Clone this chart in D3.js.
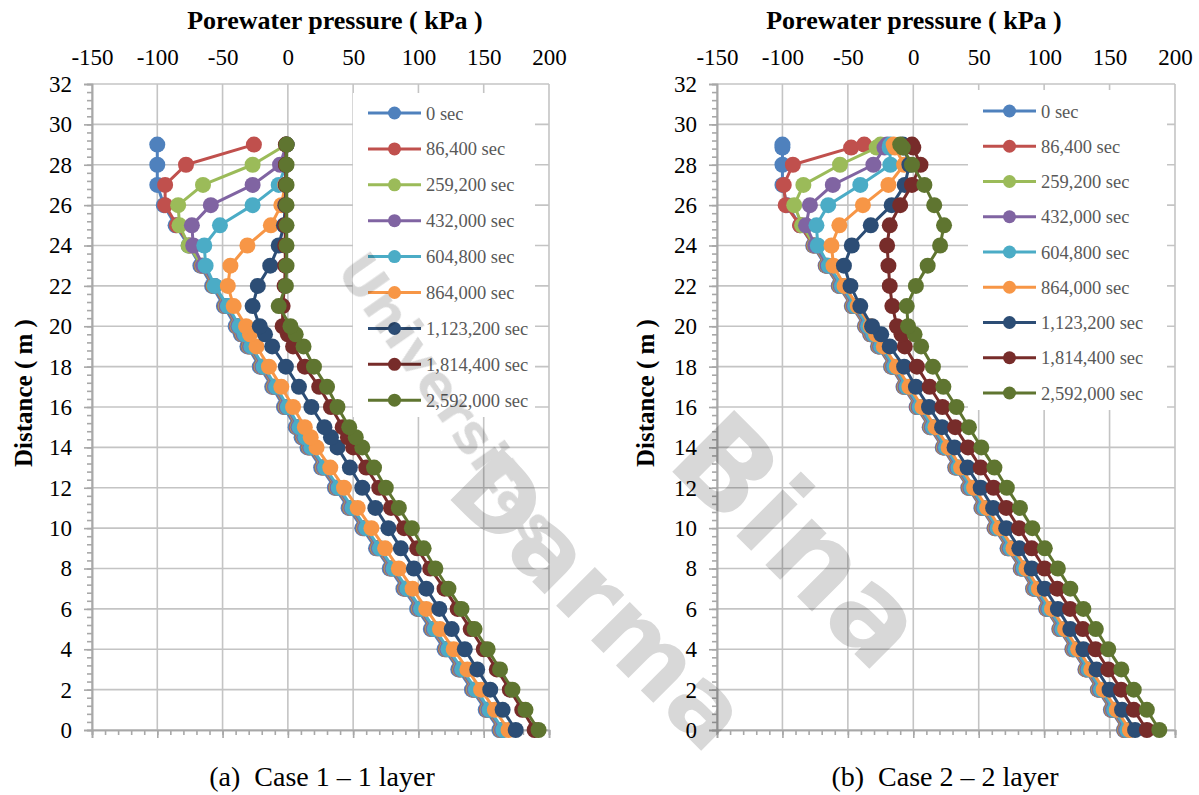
<!DOCTYPE html>
<html>
<head>
<meta charset="utf-8">
<script src="https://cdn.jsdelivr.net/npm/d3@7"></script>
<style>
  body { margin: 0; background: #fff; }
  svg text { font-family: "Liberation Serif", "Times New Roman", "DejaVu Serif", serif; }
</style>
</head>
<body>
<svg id="chart" width="1199" height="795"></svg>
<script>
// ---- data ----
var seriesNames = ["0 sec", "86,400 sec", "259,200 sec", "432,000 sec", "604,800 sec",
                   "864,000 sec", "1,123,200 sec", "1,814,400 sec", "2,592,000 sec"];
var seriesColors = ["#4F81BD", "#C0504D", "#9BBB59", "#8064A2", "#4BACC6",
                    "#F79646", "#2C4D75", "#772C2A", "#5F7530"];
var xTicks = [-150, -100, -50, 0, 50, 100, 150, 200];
var yTicks = [0, 2, 4, 6, 8, 10, 12, 14, 16, 18, 20, 22, 24, 26, 28, 30, 32];
var captions = ["(a)  Case 1 \u2013 1 layer", "(b)  Case 2 \u2013 2 layer"];

// case 1 : distance (m) of each node
var depthA = [0, 1, 2, 3, 4, 5, 6, 7, 8, 9, 10, 11, 12, 13, 14, 14.5, 15, 16, 17, 18, 19, 19.6,
              20, 21, 22, 23, 24, 25, 26, 27, 28, 29];
// case 1 : porewater pressure (kPa), one array per time
var case1_0s      = [162, 151.5, 141, 130.5, 120, 109.5, 99, 88.5, 78, 67.5, 57, 46.5, 36, 25.5, 15, 10.5, 6, -3, -12, -21.5, -31, -36, -40, -49, -58, -67, -76, -86, -95, -100, -100, -100];
var case1_86400   = [163, 152.5, 142, 131.5, 121, 110.5, 100, 89.5, 79, 68.5, 58, 47.5, 37, 26.5, 16, 11.5, 7, -2, -11, -20.5, -30, -35, -39, -48, -57, -66, -75, -85, -94, -94, -78, -26];
var case1_259200  = [163.5, 153, 142.5, 132, 121.5, 111, 100.5, 90, 79.5, 69, 58.5, 48, 37.5, 27, 16.5, 12, 7.5, -1.5, -10.5, -20, -29.5, -34.5, -38.5, -47.5, -56.5, -65.5, -76, -83, -84, -65, -27, -1];
var case1_432000  = [164, 153.5, 143, 132.5, 122, 111.5, 101, 90.5, 80, 69.5, 59, 48.5, 38, 27.5, 17, 12.5, 8, -1, -10, -19.5, -29, -34, -38, -47, -56, -65, -72.5, -73.5, -59, -27, -6, -1];
var case1_604800  = [165, 154.5, 144, 133.5, 123, 112.5, 102, 91.5, 81, 70.5, 60, 49.5, 39, 28.5, 18, 13.5, 9, 0, -9, -18.5, -28, -33, -37, -46, -56, -63, -64, -52, -27, -7, -1.5, -1];
var case1_864000  = [169, 158.5, 148, 137.5, 127, 116.5, 106, 95.5, 85, 74.5, 64, 53.5, 43, 32.5, 22, 17.5, 13, 4, -5, -14.5, -24, -29, -32, -41.5, -46, -44, -31, -13, -5, -2, -1.5, -1];
var case1_1123200 = [174.5, 164.5, 155, 145, 135.5, 125.5, 116, 106, 96.5, 86.5, 77, 67, 57, 47.5, 38, 33, 28, 18, 8.5, -1.5, -12, -17.5, -21.5, -27, -23, -13.5, -7, -3, -2, -1.5, -1.5, -1];
var case1_1814400 = [189, 179.5, 170, 160, 150, 140, 130, 120, 109, 99, 89, 79, 70, 60, 50, 46, 42, 33, 24, 13, 4, 0, -4, -4, -2.5, -2, -2, -2, -1.5, -1.5, -1.5, -1.5];
var case1_2592000 = [192, 182, 172, 162.5, 153, 143, 133, 123, 113, 104, 95, 85, 75, 66, 57, 52, 47, 38, 30, 20, 12, 6, 2, -7, -1.5, -1, -1, -1, -1, -1, -1, -1];

// case 2 : distance (m) of each node
var depthB = [0, 1, 2, 3, 4, 5, 6, 7, 8, 9, 10, 11, 12, 13, 14, 15, 16, 17, 18, 19, 19.6,
              20, 21, 22, 23, 24, 25, 26, 27, 28, 28.85, 29];
var case2_0s      = [161, 151, 141, 131.5, 121.5, 111.5, 101.5, 91.5, 82, 72, 62, 52, 42, 32, 22.5, 12.5, 2.5, -7.5, -17, -27, -33, -37, -47, -57, -67, -76.5, -86.5, -96.5, -100, -100, -100, -100];
var case2_86400   = [161.5, 151.5, 141.5, 132, 122, 112, 102, 92, 82.5, 72.5, 62.5, 52.5, 42.5, 32.5, 23, 13, 3, -7, -16.5, -26.5, -32.5, -36.5, -46.5, -56.5, -66.5, -76, -86.5, -97.5, -99, -92, -47.5, -37.5];
var case2_259200  = [162, 152, 142, 132.5, 122.5, 112.5, 102.5, 92.5, 83, 73, 63, 53, 43, 33, 23.5, 13.5, 3.5, -6.5, -16, -26, -32, -36, -46, -56, -66, -75.5, -85, -91, -84, -56, -28, -25];
var case2_432000  = [162.5, 152.5, 142.5, 133, 123, 113, 103, 93, 83.5, 73.5, 63.5, 53.5, 43.5, 33.5, 24, 14, 4, -6, -15.5, -25.5, -31.5, -35.5, -45.5, -55.5, -65.5, -75, -82, -79, -61.5, -30.5, -22, -20];
var case2_604800  = [163.5, 153.5, 143.5, 134, 124, 114, 104, 94, 84.5, 74.5, 64.5, 54.5, 44.5, 34.5, 25, 15, 5, -5, -14.5, -24.5, -30.5, -34.5, -44.5, -54.5, -64.5, -73, -74, -65, -40.5, -17.5, -18, -17.5];
var case2_864000  = [165.5, 155.5, 145.5, 136, 126, 116, 106, 96, 86.5, 76.5, 66.5, 56.5, 46.5, 36.5, 27, 17, 7, -3, -12.5, -22.5, -28.5, -32.5, -42.5, -52.5, -61, -62.5, -56.5, -38.5, -19, -7, -14, -15];
var case2_1123200 = [169.5, 159.5, 150, 140, 130, 120, 110.5, 100.5, 90.5, 81, 71, 61, 51.5, 41.5, 31.5, 22, 12, 2, -7, -18, -24.5, -31.5, -40.5, -48, -53, -47, -32.5, -16.5, -6.5, -3, -7, -8];
var case2_1814400 = [178.5, 168.5, 158.8, 149, 139.3, 129.6, 119.8, 110, 100.3, 90.5, 80.8, 71, 61.3, 51.5, 41.8, 32, 22.3, 12.5, 2.8, -6.5, -9, -12.5, -16, -18, -19, -20, -18, -10, -1, 5.5, 0, -1];
var case2_2592000 = [188, 178.5, 168.5, 159, 149, 139.5, 130, 120, 110.5, 100.5, 91, 81.5, 71.5, 62, 52, 42.5, 33, 23, 15, 6, 1, -4, -5, 2, 11, 20.5, 23.5, 16, 8.5, -1, -8, -10];

var serif = "'Liberation Serif', 'Times New Roman', 'DejaVu Serif', serif";

var panels = [
  { depth: depthA, caption: captions[0],
    series: [case1_0s, case1_86400, case1_259200, case1_432000, case1_604800,
             case1_864000, case1_1123200, case1_1814400, case1_2592000],
    left: 92, right: 549, top: 84, bottom: 730,
    titleX: 335, yTitleX: 24, captionX: 322,
    legend: { x: 353, y: 93, w: 182, h: 324, first: 113, step: 35.9 } },
  { depth: depthB, caption: captions[1],
    series: [case2_0s, case2_86400, case2_259200, case2_432000, case2_604800,
             case2_864000, case2_1123200, case2_1814400, case2_2592000],
    left: 717, right: 1175, top: 84, bottom: 730,
    titleX: 914, yTitleX: 646, captionX: 945,
    legend: { x: 968, y: 90, w: 199, h: 320, first: 111, step: 35.25 } }
];

var svg = d3.select("#chart");
svg.append("rect").attr("width", 1199).attr("height", 795).attr("fill", "#fff");

var gridColor = "#c4c4c4",
    axisColor = "#a8a8a8";

panels.forEach(function(p) {
  var x = d3.scaleLinear().domain([-150, 200]).range([p.left, p.right]);
  var y = d3.scaleLinear().domain([0, 32]).range([p.bottom, p.top]);
  var g = svg.append("g");

  // gridlines
  g.append("g").selectAll("line").data(xTicks).enter().append("line")
    .attr("x1", function(d) { return x(d); }).attr("x2", function(d) { return x(d); })
    .attr("y1", p.top).attr("y2", p.bottom)
    .attr("stroke", gridColor).attr("stroke-width", 1.6);
  g.append("g").selectAll("line").data(yTicks).enter().append("line")
    .attr("x1", p.left).attr("x2", p.right)
    .attr("y1", function(d) { return y(d); }).attr("y2", function(d) { return y(d); })
    .attr("stroke", gridColor).attr("stroke-width", 1.6);

  // minor + major ticks, left axis
  var yMinor = g.append("g").attr("transform", "translate(" + p.left + ",0)")
    .call(d3.axisLeft(y).tickValues(d3.range(0, 32.01, 0.4)).tickSize(5).tickFormat(""));
  var yMajor = g.append("g").attr("transform", "translate(" + p.left + ",0)")
    .call(d3.axisLeft(y).tickValues(yTicks).tickSize(8).tickPadding(12)
      .tickFormat(function(d) { return String(d); }));
  // minor + major ticks, bottom axis
  var xMinor = g.append("g").attr("transform", "translate(0," + p.bottom + ")")
    .call(d3.axisBottom(x).tickValues(d3.range(-150, 200.01, 10)).tickSize(5).tickFormat(""));
  var xMajor = g.append("g").attr("transform", "translate(0," + p.bottom + ")")
    .call(d3.axisBottom(x).tickValues(xTicks).tickSize(8).tickFormat(""));
  // value labels sit above the plot
  var xLab = g.append("g").attr("transform", "translate(0," + p.top + ")")
    .call(d3.axisTop(x).tickValues(xTicks).tickSize(0).tickPadding(19)
      .tickFormat(function(d) { return String(d); }));
  xLab.select(".domain").remove();

  [yMinor, yMajor, xMinor, xMajor].forEach(function(a) {
    a.selectAll("path.domain").attr("stroke", axisColor).attr("stroke-width", 1.6);
    a.selectAll(".tick line").attr("stroke", axisColor).attr("stroke-width", 1.6);
  });
  [yMajor, xLab].forEach(function(a) {
    a.attr("font-family", null);
    a.selectAll("text").attr("fill", "#000")
      .style("font-family", serif).style("font-size", "23px");
  });

  // series
  var line = d3.line()
    .x(function(d) { return x(d[0]); })
    .y(function(d) { return y(d[1]); });

  p.series.forEach(function(vals, i) {
    var pts = vals.map(function(v, k) { return [v, p.depth[k]]; });
    var sg = g.append("g");
    sg.append("path").datum(pts).attr("d", line)
      .attr("fill", "none").attr("stroke", seriesColors[i]).attr("stroke-width", 3)
      .attr("stroke-linejoin", "round");
    sg.selectAll("circle").data(pts).enter().append("circle")
      .attr("cx", function(d) { return x(d[0]); })
      .attr("cy", function(d) { return y(d[1]); })
      .attr("r", 8).attr("fill", seriesColors[i]);
  });

  // legend
  var L = p.legend;
  var lg = g.append("g");
  lg.append("rect").attr("x", L.x).attr("y", L.y).attr("width", L.w).attr("height", L.h)
    .attr("fill", "#fff");
  var item = lg.selectAll("g").data(seriesNames).enter().append("g")
    .attr("transform", function(d, i) { return "translate(" + (L.x + 15) + "," + (L.first + i * L.step) + ")"; });
  item.append("line").attr("x1", 0).attr("x2", 53).attr("y1", 0).attr("y2", 0)
    .attr("stroke", function(d, i) { return seriesColors[i]; }).attr("stroke-width", 3);
  item.append("circle").attr("cx", 26.5).attr("cy", 0).attr("r", 6.5)
    .attr("fill", function(d, i) { return seriesColors[i]; });
  item.append("text").attr("x", 58).attr("y", 6.5)
    .style("font-family", serif).style("font-size", "18.5px").attr("fill", "#595959")
    .text(function(d) { return d; });

  // titles
  g.append("text").attr("x", p.titleX).attr("y", 29).attr("text-anchor", "middle")
    .style("font-family", serif).style("font-size", "26px").style("font-weight", "bold")
    .text("Porewater pressure ( kPa )");
  g.append("text").attr("transform", "translate(" + (p.yTitleX + 8) + ",393) rotate(-90)")
    .attr("text-anchor", "middle")
    .style("font-family", serif).style("font-size", "25px").style("font-weight", "bold")
    .text("Distance ( m )");
  g.append("text").attr("x", p.captionX).attr("y", 786).attr("text-anchor", "middle")
    .style("font-family", serif).style("font-size", "28px").style("white-space", "pre")
    .text(p.caption);
});

// faint watermark laid over the figure
var wm = svg.append("g").style("mix-blend-mode", "multiply").attr("fill", "#d8d8d8");
function mark(txt, cx, cy, rot, size) {
  wm.append("text").attr("transform", "translate(" + cx + "," + cy + ") rotate(" + rot + ")")
    .attr("text-anchor", "middle").attr("dy", "0.35em")
    .style("font-family", "'DejaVu Sans', sans-serif").style("font-weight", "bold")
    .style("font-size", size + "px").text(txt);
}
mark("Universitas", 450, 400, 55, 54);
mark("Bina", 800, 540, 45, 120);
mark("Darma", 600, 600, 45, 100);
</script>
</body>
</html>
